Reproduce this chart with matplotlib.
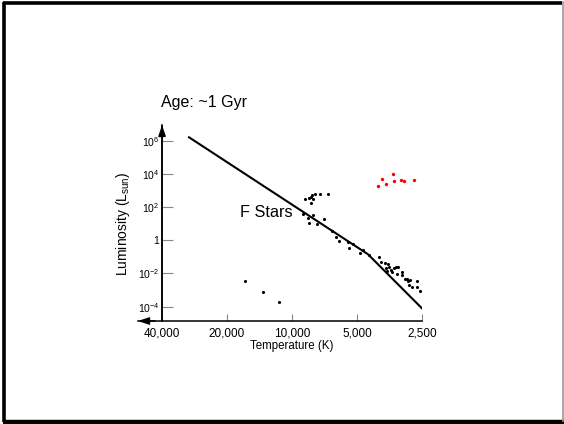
import numpy as np
import matplotlib
matplotlib.use("Agg")
import matplotlib.pyplot as plt

plt.rcParams["font.family"] = ["Liberation Sans", "DejaVu Sans"]
plt.rcParams["mathtext.fontset"] = "custom"
plt.rcParams["mathtext.rm"] = "Liberation Sans"
plt.rcParams["mathtext.it"] = "Liberation Sans:italic"

# main sequence line
ms_temp = [30000, 4450, 2500]
ms_logL = [6.2, -0.84, -4.1]

# black stars (temperature K, log10 luminosity)
star_temp = [8690, 8370, 8140, 8080, 7970, 8190, 7800, 7450, 6790,
             8860, 8400, 7970, 8310, 7640, 7080,
             6505, 6233, 6080, 5487, 5445, 5201, 4826, 4705, 4390,
             3956, 3872, 3708, 3604, 3555, 3670, 3620, 3480, 3431, 3359,
             3298, 3220, 3273, 3103, 3084, 2997, 2941, 2894, 2841, 2872,
             2789, 2646, 2646, 2554,
             16450, 13580, 11450]
star_logL = [2.46, 2.56, 2.60, 2.72, 2.46, 2.24, 2.80, 2.80, 2.78,
             1.60, 1.34, 1.50, 1.04, 1.00, 1.30,
             0.56, 0.20, -0.06, -0.10, -0.44, -0.20, -0.76, -0.60, -0.90,
             -0.98, -1.28, -1.38, -1.42, -1.60, -1.68, -1.84, -1.78, -1.92, -1.68,
             -1.62, -1.58, -2.04, -1.88, -2.08, -2.34, -2.32, -2.48, -2.42, -2.68,
             -2.84, -2.44, -2.84, -3.08,
             -2.44, -3.10, -3.74]

# red giants
giant_temp = [3984, 3817, 3657, 3406, 3381, 3128, 3030, 2732]
giant_logL = [3.26, 3.70, 3.38, 3.96, 3.56, 3.62, 3.56, 3.62]

xticks = [40000, 20000, 10000, 5000, 2500]
xticklabels = ["40,000", "20,000", "10,000", "5,000", "2,500"]
yticks_exp = [-4, -2, 0, 2, 4, 6]

W, H = 564, 424
fig = plt.figure(figsize=(W / 100, H / 100), dpi=100)

# slide frame
bg = fig.add_axes([0, 0, 1, 1])
bg.set_xlim(0, W)
bg.set_ylim(H, 0)
bg.axis("off")
bg.plot([4, 4], [2, 422], color="black", lw=2.6, solid_capstyle="butt")
bg.plot([2.5, 562], [2.5, 2.5], color="black", lw=2.6, solid_capstyle="butt")
bg.plot([2.5, 564], [422, 422], color="black", lw=3.2, solid_capstyle="butt")
bg.plot([562.5, 562.5], [2, 421], color="#999999", lw=1.2)

ax = fig.add_axes([138 / W, (H - 321) / H, (422 - 138) / W, (321 - 125) / H])
ax.set_xscale("log")
ax.set_yscale("log")
ax.set_xlim(51700, 2500)
ax.set_ylim(10 ** -4.86, 10 ** 6.94)

ax.plot(ms_temp, np.power(10.0, ms_logL), color="black", lw=1.5)
ax.scatter(star_temp, np.power(10.0, star_logL), s=5, color="black", lw=0)
ax.scatter(giant_temp, np.power(10.0, giant_logL), s=6, color="red", lw=0)

for s in ["top", "right"]:
    ax.spines[s].set_visible(False)
ax.spines["left"].set_position(("data", 40000))
ax.spines["left"].set_linewidth(1.1)
ax.spines["bottom"].set_linewidth(1.1)
ax.axvline(40000, color="black", lw=1.1)

ax.set_xticks(xticks)
ax.set_xticklabels(xticklabels, fontsize=8.5)
ax.xaxis.set_minor_locator(matplotlib.ticker.NullLocator())
ax.set_yticks([10.0 ** e for e in yticks_exp])
ax.set_yticklabels(["1" if e == 0 else r"$10^{%d}$" % e for e in yticks_exp], fontsize=7.5)
ax.yaxis.set_minor_locator(matplotlib.ticker.NullLocator())
ax.tick_params(axis="x", direction="in", length=5, color="#888888", pad=5)
ax.tick_params(axis="y", direction="in", length=8, color="#888888", pad=2)

# arrow heads
arrow = dict(arrowstyle="-|>,head_length=0.65,head_width=0.22", color="black", lw=1.1,
             shrinkA=0, shrinkB=0)
ax.annotate("", xy=(0, 0), xytext=(0.06, 0), xycoords="axes fraction", arrowprops=arrow)
ax.annotate("", xy=(40000, 1), xytext=(40000, 0.94), xycoords=ax.get_xaxis_transform(),
            arrowprops=arrow)

ax.text(0.541, -0.126, "Temperature (K)", transform=ax.transAxes, ha="center", va="center",
        fontsize=8.3)
ax.text(-0.052, 0.497, r"Luminosity (L$_{\mathrm{sun}}$)", transform=ax.transAxes,
        ha="center", va="center", rotation=90, fontsize=10)

fig.text(161 / W, 1 - 103 / H, "Age: ~1 Gyr", fontsize=11.5, va="center", ha="left")
fig.text(240 / W, 1 - 212.3 / H, "F Stars", fontsize=11.7, va="center", ha="left")

fig.savefig("out.png", dpi=100)
